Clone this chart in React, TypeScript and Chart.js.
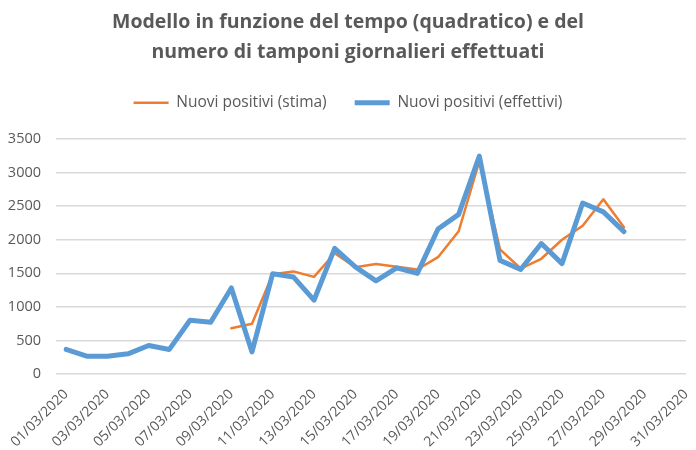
import React, { useEffect, useRef } from "react";
import { Chart, registerables } from "chart.js";

Chart.register(...registerables);

const dates: string[] = [
  "01/03/2020", "02/03/2020", "03/03/2020", "04/03/2020", "05/03/2020", "06/03/2020",
  "07/03/2020", "08/03/2020", "09/03/2020", "10/03/2020", "11/03/2020", "12/03/2020",
  "13/03/2020", "14/03/2020", "15/03/2020", "16/03/2020", "17/03/2020", "18/03/2020",
  "19/03/2020", "20/03/2020", "21/03/2020", "22/03/2020", "23/03/2020", "24/03/2020",
  "25/03/2020", "26/03/2020", "27/03/2020", "28/03/2020", "29/03/2020", "30/03/2020",
  "31/03/2020",
];

const effettivi: (number | null)[] = [
  366, 265, 265, 300, 424, 366, 800, 771, 1282, 328, 1494, 1446, 1099, 1870,
  1596, 1388, 1581, 1499, 2160, 2377, 3245, 1692, 1557, 1943, 1644, 2546, 2415, 2121,
  null, null, null,
];

const stima: (number | null)[] = [
  null, null, null, null, null, null, null, null, 680, 747, 1485, 1528, 1446, 1798,
  1590, 1639, 1596, 1557, 1740, 2126, 3172, 1856, 1571, 1716, 2000, 2208, 2603, 2184,
  null, null, null,
];

const titleLines: string[] = [
  "Modello in funzione del tempo (quadratico) e del",
  "numero di tamponi giornalieri effettuati",
];

const yTicksMax = 3500;
const yStep = 500;

const TEXT = "#595959";
const GRID = "#d9d9d9";

export default function App() {
  const ref = useRef<HTMLCanvasElement | null>(null);

  useEffect(() => {
    if (!ref.current) return;
    Chart.defaults.font.family = "'Open Sans', sans-serif";
    const sizing = {
      id: "sizing",
      beforeInit(chart: any) {
        const lg = chart.legend;
        if (lg) {
          const f = lg.fit;
          lg.fit = function () {
            f.call(this);
            this.height = 72;
          };
        }
        const tb = chart.titleBlock;
        if (tb) {
          const tf = tb.fit;
          tb.fit = function () {
            tf.call(this);
            this.height = 60;
          };
        }
      },
    };
    const chart = new Chart(ref.current, {
      type: "line",
      data: {
        labels: dates,
        datasets: [
          {
            label: "Nuovi positivi (effettivi)",
            data: effettivi,
            borderColor: "#5B9BD5",
            backgroundColor: "#5B9BD5",
            borderWidth: 5,
            pointRadius: 0,
            tension: 0,
            borderJoinStyle: "round",
            borderCapStyle: "round",
            spanGaps: false,
          },
          {
            label: "Nuovi positivi (stima)",
            data: stima,
            borderColor: "#ED7D31",
            backgroundColor: "#ED7D31",
            borderWidth: 2.5,
            pointRadius: 0,
            tension: 0,
            borderJoinStyle: "round",
            borderCapStyle: "round",
            spanGaps: false,
          },
        ],
      },
      options: {
        responsive: false,
        animation: false,
        layout: { padding: { left: 0, right: 0, top: 0, bottom: 0 } },
        plugins: {
          title: {
            display: true,
            text: titleLines,
            color: TEXT,
            font: { size: 19.5, weight: "bold", lineHeight: "30px" as any },
            padding: { top: 7, bottom: 0 },
          },
          legend: {
            display: true,
            position: "top",
            labels: {
              color: TEXT,
              font: { size: 15.5 },
              usePointStyle: true,
              pointStyle: "line",
              pointStyleWidth: 35,
              padding: 28,
              sort: (a: any, b: any) => b.datasetIndex - a.datasetIndex,
            },
          },
          tooltip: { enabled: false },
        },
        scales: {
          x: {
            offset: false,
            grid: { display: false, drawTicks: false },
            border: { display: false },
            ticks: {
              color: TEXT,
              font: { size: 14 },
              autoSkip: false,
              minRotation: 45,
              maxRotation: 45,
              padding: 12,
              callback: (_v: any, i: number) => (i % 2 === 0 ? dates[i] : ""),
            },
            afterFit: (s: any) => {
              s.height = 76;
              s.paddingRight = 10;
              s.paddingLeft = 0;
            },
          },
          y: {
            min: 0,
            max: yTicksMax,
            grid: { color: GRID, lineWidth: 1.5, tickLength: 10, tickColor: GRID },
            border: { display: false },
            ticks: {
              stepSize: yStep,
              color: TEXT,
              font: { size: 14.5 },
              padding: 15,
              callback: (v: any) => String(v),
            },
            afterFit: (s: any) => {
              s.width = 66;
            },
          },
        },
      },
      plugins: [sizing],
    });
    return () => chart.destroy();
  }, []);

  return (
    <div style={{ position: "fixed", left: 0, top: 0, width: 696, height: 450, background: "#fff" }}>
      <canvas ref={ref} width={696} height={450} style={{ width: 696, height: 450 }} />
    </div>
  );
}
